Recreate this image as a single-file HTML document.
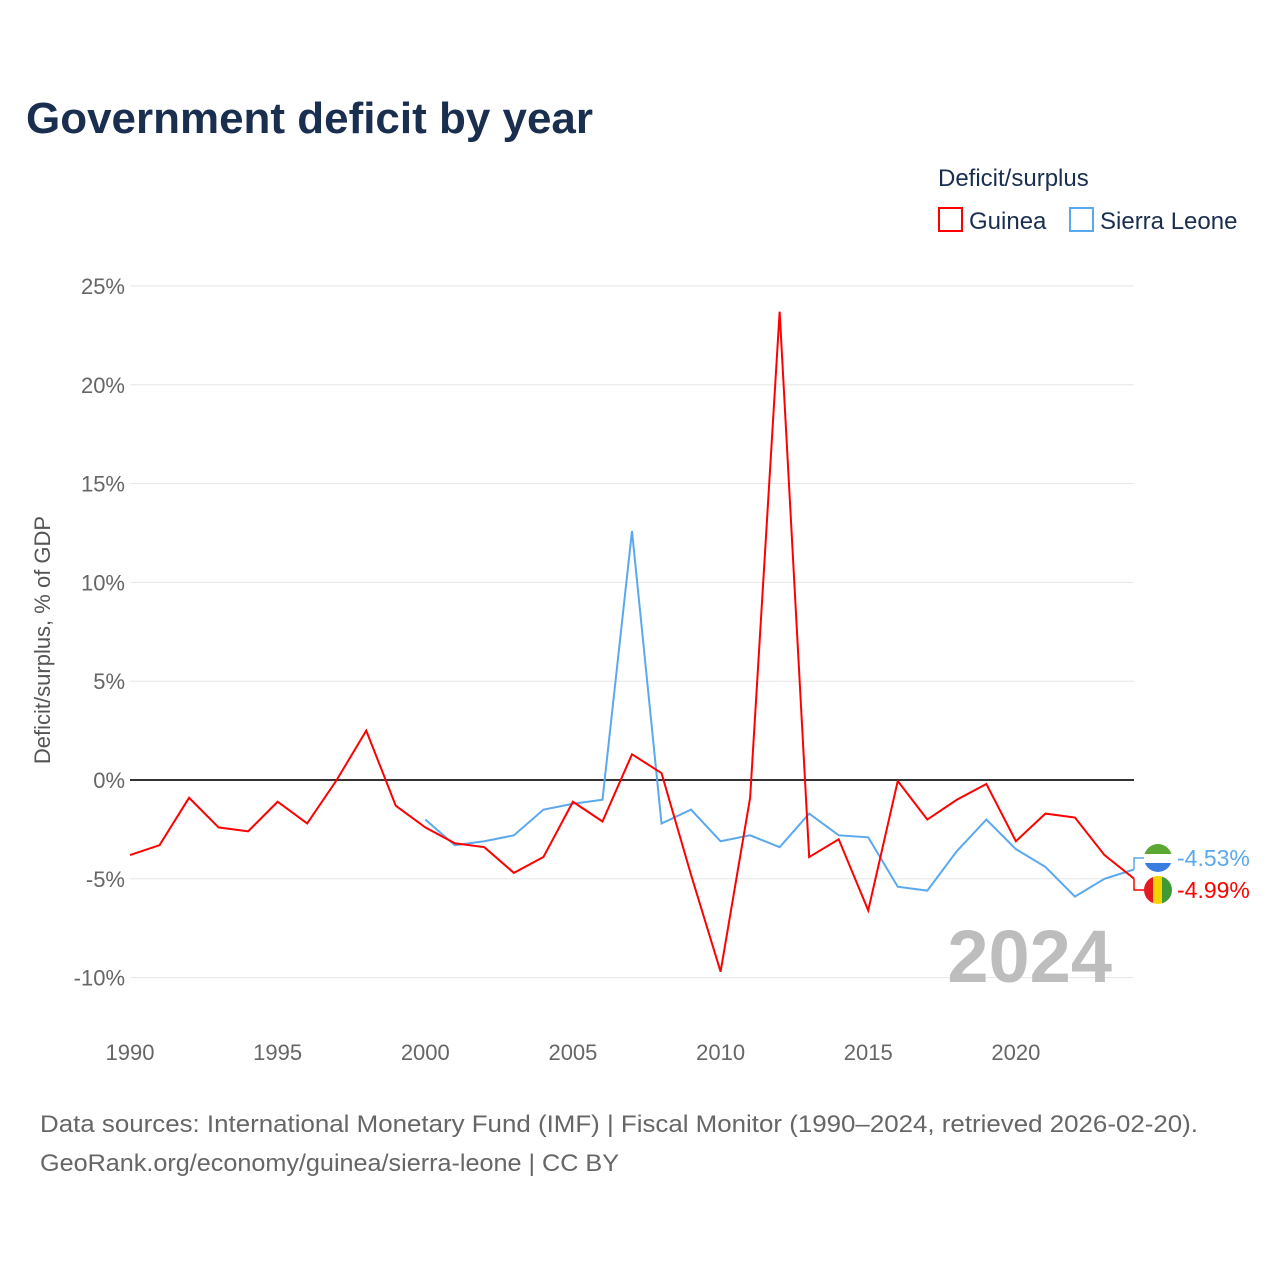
<!DOCTYPE html>
<html><head><meta charset="utf-8">
<style>
body{margin:0;background:#fff;font-family:"Liberation Sans",sans-serif;}
#wrap{position:relative;width:1280px;height:1280px;}
</style></head>
<body>
<div id="wrap">
<svg id="chart" width="1280" height="1280" xmlns="http://www.w3.org/2000/svg">
<text x="26" y="133" font-size="44" font-weight="bold" fill="#1a2e4f" textLength="567" lengthAdjust="spacingAndGlyphs">Government deficit by year</text>
<text x="938" y="186" font-size="24" fill="#1a2e4f">Deficit/surplus</text>
<g><rect x="939" y="208" width="23" height="23" fill="none" stroke="#ff0000" stroke-width="2"/><text x="969" y="229" font-size="24" fill="#1a2e4f">Guinea</text></g>
<g><rect x="1070" y="208" width="23" height="23" fill="none" stroke="#5aa9ee" stroke-width="2"/><text x="1100" y="229" font-size="24" fill="#1a2e4f">Sierra Leone</text></g>
<text transform="translate(50,640) rotate(-90)" text-anchor="middle" font-size="22" fill="#555">Deficit/surplus, % of GDP</text>
<g id="grid"></g><g id="series"></g>
<text x="1112" y="982" text-anchor="end" font-size="74" font-weight="bold" fill="#bdbdbd">2024</text>
<text x="40" y="1132" font-size="24" fill="#666" textLength="1158" lengthAdjust="spacingAndGlyphs">Data sources: International Monetary Fund (IMF) | Fiscal Monitor (1990–2024, retrieved 2026-02-20).</text>
<text x="40" y="1171" font-size="24" fill="#666" textLength="579" lengthAdjust="spacingAndGlyphs">GeoRank.org/economy/guinea/sierra-leone | CC BY</text>
</svg>
</div>
<script>
const years=[];for(let y=1990;y<=2024;y++)years.push(y);
const guinea=[-3.8,-3.3,-0.9,-2.4,-2.6,-1.1,-2.2,0,2.5,-1.3,-2.4,-3.2,-3.4,-4.7,-3.9,-1.1,-2.1,1.3,0.35,-4.8,-9.7,-0.9,23.7,-3.9,-3.0,-6.6,-0.05,-2.0,-1.0,-0.2,-3.1,-1.7,-1.9,-3.8,-4.99];
const slYears=[];for(let y=2000;y<=2024;y++)slYears.push(y);
const sierraLeone=[-2.0,-3.3,-3.1,-2.8,-1.5,-1.2,-1.0,12.6,-2.2,-1.5,-3.1,-2.8,-3.4,-1.7,-2.8,-2.9,-5.4,-5.6,-3.6,-2.0,-3.5,-4.4,-5.9,-5.0,-4.53];
const yTicks=[25,20,15,10,5,0,-5,-10];
const xTicks=[1990,1995,2000,2005,2010,2015,2020];
const X=y=>130+(y-1990)*(1134-130)/34;
const Y=v=>780-v*19.76;
const NS="http://www.w3.org/2000/svg";
const grid=document.getElementById('grid'),series=document.getElementById('series');
function mk(t,a,p){const e=document.createElementNS(NS,t);for(const k in a)e.setAttribute(k,a[k]);p.appendChild(e);return e;}
yTicks.forEach(v=>{
 const l=mk('line',{x1:130,x2:1134,y1:Y(v),y2:Y(v),stroke:v===0?'#333':'#e6e6e6','stroke-width':v===0?2:1},grid);
 
 
 const t=mk('text',{x:125,y:Y(v)+8,'text-anchor':'end','font-size':22,fill:'#666'},grid);
 t.textContent=v+'%';
 
 
});
xTicks.forEach(v=>{
 const t=mk('text',{x:X(v),y:1060,'text-anchor':'middle','font-size':22,fill:'#666'},grid);
 t.textContent=v;
 
 
});
function line(xs,vs,c,name){
 const p=mk('polyline',{points:xs.map((y,i)=>X(y)+','+Y(vs[i])).join(' '),fill:'none',stroke:c,'stroke-width':2},series);
 
 
}
line(slYears,sierraLeone,'#5aa9ee','sierra-leone-line');
line(years,guinea,'#ff0000','guinea-line');
const slV=sierraLeone[sierraLeone.length-1],gV=guinea[guinea.length-1];
const ly1=858,ly2=890;
mk('polyline',{points:`${X(2024)},${Y(slV)} 1134,${ly1} 1144,${ly1}`,fill:'none',stroke:'#5aa9ee','stroke-width':1.5},series);
mk('polyline',{points:`${X(2024)},${Y(gV)} 1134,${ly2} 1144,${ly2}`,fill:'none',stroke:'#ff0000','stroke-width':1.5},series);
const f1=mk('g',{},series);


const cp1=mk('clipPath',{id:'c1'},f1);mk('circle',{cx:1158,cy:ly1,r:14},cp1);
mk('rect',{x:1144,y:ly1-14,width:28,height:10,fill:'#5aa832','clip-path':'url(#c1)'},f1);
mk('rect',{x:1144,y:ly1-4,width:28,height:9,fill:'#fff','clip-path':'url(#c1)'},f1);
mk('rect',{x:1144,y:ly1+5,width:28,height:10,fill:'#3a7de0','clip-path':'url(#c1)'},f1);
const f2=mk('g',{},series);


const cp2=mk('clipPath',{id:'c2'},f2);mk('circle',{cx:1158,cy:ly2,r:14},cp2);
mk('rect',{x:1144,y:ly2-14,width:10,height:28,fill:'#e41b23','clip-path':'url(#c2)'},f2);
mk('rect',{x:1153,y:ly2-14,width:10,height:28,fill:'#f5d300','clip-path':'url(#c2)'},f2);
mk('rect',{x:1162,y:ly2-14,width:10,height:28,fill:'#3f9a35','clip-path':'url(#c2)'},f2);
const t1=mk('text',{x:1177,y:ly1+8,'font-size':23,fill:'#5aa9ee'},series);t1.textContent=slV.toFixed(2)+'%';


const t2=mk('text',{x:1177,y:ly2+8,'font-size':23,fill:'#ff0000'},series);t2.textContent=gV.toFixed(2)+'%';


</script>
</body></html>
